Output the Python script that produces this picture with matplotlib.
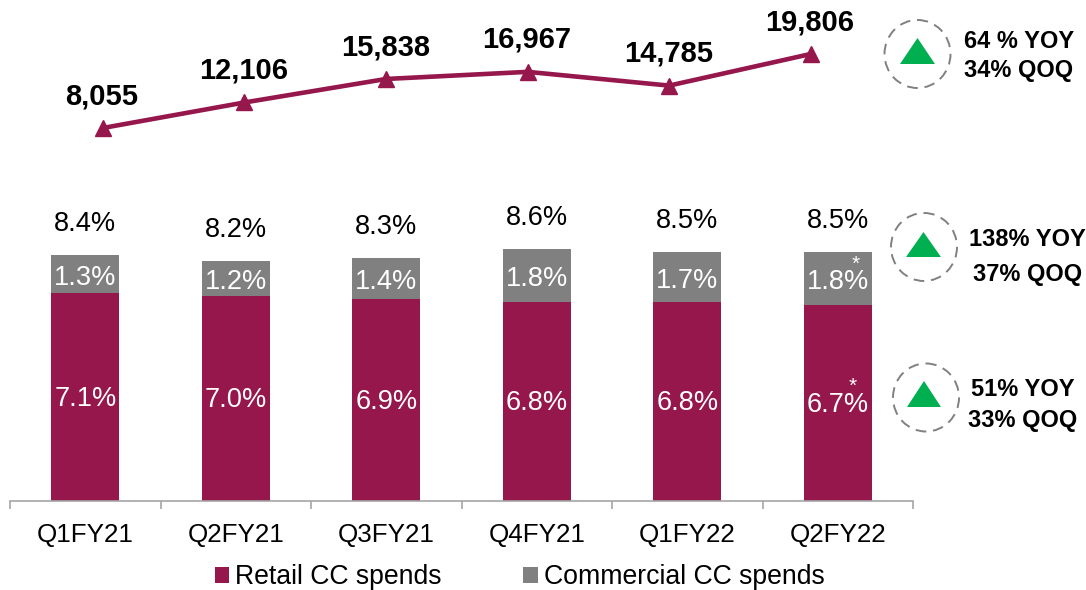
import matplotlib
matplotlib.use('Agg')
import numpy as np
import matplotlib.pyplot as plt
from matplotlib.patches import Ellipse, Polygon

plt.rcParams['font.family'] = ['Liberation Sans', 'DejaVu Sans']

W, H = 1086, 590

quarters = ['Q1FY21', 'Q2FY21', 'Q3FY21', 'Q4FY21', 'Q1FY22', 'Q2FY22']
retail = [7.1, 7.0, 6.9, 6.8, 6.8, 6.7]
commercial = [1.3, 1.2, 1.4, 1.8, 1.7, 1.8]
totals = [8.4, 8.2, 8.3, 8.6, 8.5, 8.5]
spends = [8055, 12106, 15838, 16967, 14785, 19806]

badge_lines = [('64 % YOY', '34% QOQ'), ('138% YOY', '37% QOQ'), ('51% YOY', '33% QOQ')]

MAROON = '#95174C'
GREY = '#808080'
GREEN = '#00B050'


def px_axes(x0, y0, x1, y1):
    # axes from pixel box, y measured from the top of the image
    return fig.add_axes([x0 / W, 1 - y1 / H, (x1 - x0) / W, (y1 - y0) / H])


fig = plt.figure(figsize=(W / 100, H / 100), dpi=100)
fig.patch.set_facecolor('white')

# ── Bars ─────────────────────────────────────────────────────────────────────
ax = px_axes(10, 200, 913, 500.5)
ax.patch.set_alpha(0)
x = np.arange(len(quarters))
ax.bar(x, retail, width=0.455, color=MAROON, label='Retail CC spends')
ax.bar(x, commercial, width=0.455, bottom=retail, color=GREY, label='Commercial CC spends')
ax.set_xlim(-0.5, 5.5)
ax.set_ylim(0, 300.5 / 29.2)

for s in ['top', 'left', 'right']:
    ax.spines[s].set_visible(False)
ax.spines['bottom'].set_color('#A6A6A6')
ax.spines['bottom'].set_linewidth(1.2)
ax.yaxis.set_visible(False)
ax.set_xticks(x)
ax.set_xticklabels(quarters, fontsize=18.7, color='black')
ax.set_xticks(np.arange(-0.5, 6), minor=True)
ax.tick_params(axis='x', which='major', length=0, pad=16)
ax.tick_params(axis='x', which='minor', length=6, width=1.2, color='#A6A6A6')

for i in x:
    ax.text(i, retail[i] / 2 - 0.07, f'{retail[i]:.1f}%', ha='center', va='center',
            color='white', fontsize=19.6)
    ax.text(i, retail[i] + commercial[i] / 2 - 0.12, f'{commercial[i]:.1f}%', ha='center',
            va='center', color='white', fontsize=19.6)
    ax.annotate(f'{totals[i]:.1f}%', (i, retail[i] + commercial[i]), xytext=(0, 22.5),
                textcoords='offset points', ha='center', va='center',
                color='black', fontsize=19.6)

ax.legend(loc='center', bbox_to_anchor=(519.5 / W, 1 - 577.5 / H), bbox_transform=fig.transFigure,
          ncol=2, frameon=False, fontsize=19.2, handlelength=0.55, handleheight=0.55,
          handletextpad=0.22, columnspacing=3.05, borderpad=0)

# ── Line ─────────────────────────────────────────────────────────────────────
ax2 = px_axes(32, 0, 881.6, 200)
ax2.patch.set_alpha(0)
ax2.axis('off')
ax2.plot(range(len(spends)), spends, color=MAROON, linewidth=3.3, marker='^',
         markersize=11, clip_on=False)
ax2.set_xlim(-0.5, 5.5)
ax2.set_ylim(-3373, 28373)
for i, v in enumerate(spends):
    ax2.annotate(f'{v:,}', (i, v), xytext=(-0.5, 23), textcoords='offset points',
                 ha='center', va='center', fontsize=21, fontweight='bold', color='black')

# ── Badges ───────────────────────────────────────────────────────────────────
ov = px_axes(0, 0, W, H)
ov.patch.set_alpha(0)
ov.axis('off')
ov.set_xlim(0, W)
ov.set_ylim(H, 0)

# (circle cx, cy, triangle left, right, top, bottom)
badges = [(917.5, 54, 900, 935, 38, 64), (924, 247, 906, 941, 232, 257), (926, 397.5, 907, 941, 381, 407)]
text_pos = [((1019.5, 41), (1018.5, 70)), ((1027, 240), (1027.5, 275)), ((1023, 390), (1022.5, 420))]

for (cx, cy, l, r, t, b), lines, pos in zip(badges, badge_lines, text_pos):
    ov.add_patch(Ellipse((cx, cy), 66, 68, fill=False, edgecolor=GREY, linewidth=1.4,
                         linestyle=(0, (5.5, 3.5))))
    ov.add_patch(Polygon([(l, b), (r, b), ((l + r) / 2, t)], closed=True, facecolor=GREEN,
                         edgecolor='none'))
    for txt, (tx, ty) in zip(lines, pos):
        ov.text(tx, ty, txt, ha='center', va='center', fontsize=17, fontweight='bold', color='black')

# asterisks on the last bar
ov.text(856, 264, '*', ha='center', va='center', color='white', fontsize=15)
ov.text(853, 386, '*', ha='center', va='center', color='white', fontsize=15)

fig.savefig('out.png', dpi=100)
